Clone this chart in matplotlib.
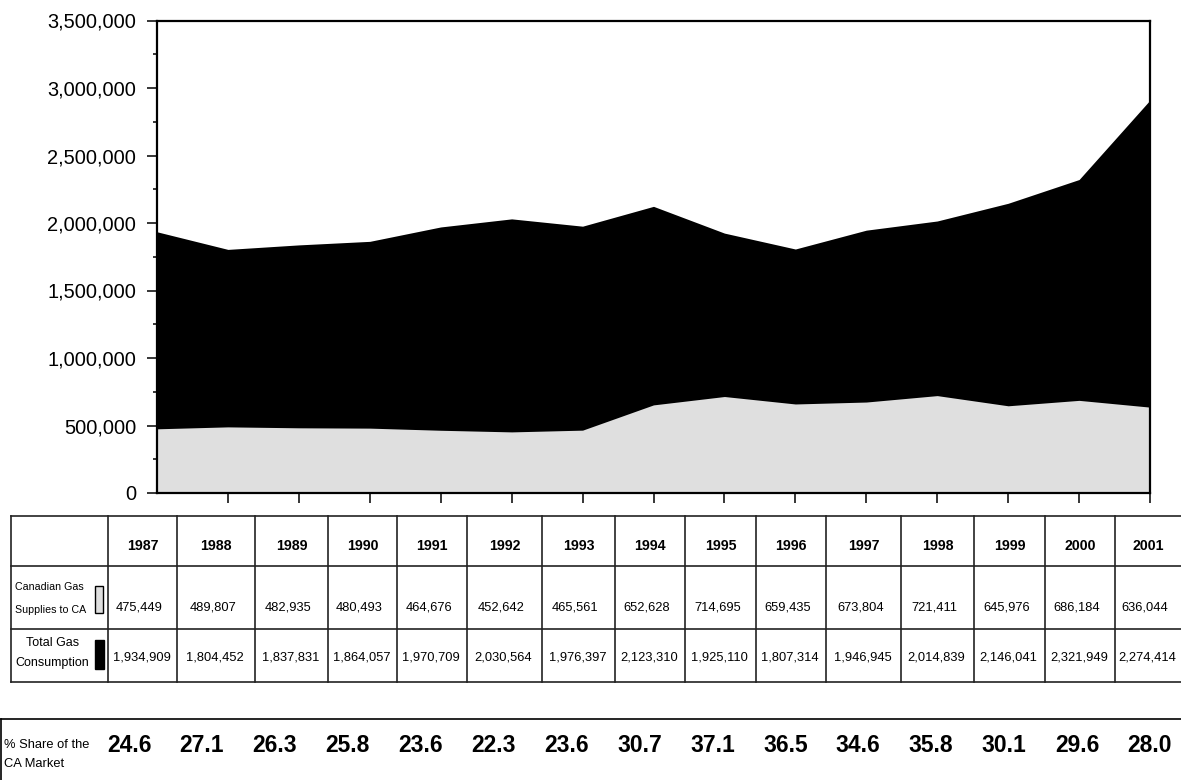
import numpy as np
import matplotlib
matplotlib.use("Agg")
import matplotlib.pyplot as plt
from matplotlib.lines import Line2D
from matplotlib.patches import Rectangle
from matplotlib.ticker import FuncFormatter, MultipleLocator

plt.rcParams['font.family'] = ['Liberation Sans', 'DejaVu Sans']

years = [1987, 1988, 1989, 1990, 1991, 1992, 1993, 1994, 1995,
         1996, 1997, 1998, 1999, 2000, 2001]
canadian = [475449, 489807, 482935, 480493, 464676, 452642, 465561, 652628,
            714695, 659435, 673804, 721411, 645976, 686184, 636044]
total = [1934909, 1804452, 1837831, 1864057, 1970709, 2030564, 1976397,
         2123310, 1925110, 1807314, 1946945, 2014839, 2146041, 2321949,
         2274414]
# series as plotted in the area chart (2001 point plotted higher than the table)
total_plotted = [1934909, 1804452, 1837831, 1864057, 1970709, 2030564,
                 1976397, 2123310, 1925110, 1807314, 1946945, 2014839,
                 2146041, 2321949, 2910458]
share = ['24.6', '27.1', '26.3', '25.8', '23.6', '22.3', '23.6', '30.7',
         '37.1', '36.5', '34.6', '35.8', '30.1', '29.6', '28.0']

W, H = 1181, 780
fig = plt.figure(figsize=(W / 100, H / 100), dpi=100)


def fx(x):
    return x / W


def fy(y):
    return 1 - y / H


# ---- area chart ----
ax = fig.add_axes([fx(157), fy(493), fx(1150 - 157), (493 - 20.5) / H])
xi = np.arange(len(years))
ax.fill_between(xi, 0, total_plotted, color='black', lw=0)
ax.fill_between(xi, 0, canadian, color='#dfdfdf', lw=0)
ax.set_xlim(0, len(years) - 1)
ax.set_ylim(0, 3500000)
ax.yaxis.set_major_locator(MultipleLocator(500000))
ax.yaxis.set_minor_locator(MultipleLocator(250000))
ax.yaxis.set_major_formatter(FuncFormatter(lambda v, p: f'{int(v):,}'))
ax.set_xticks(xi[1:])
ax.set_xticklabels([])
ax.tick_params(axis='y', which='major', length=7, width=1.1, pad=8,
               labelsize=14.4)
ax.tick_params(axis='y', which='minor', length=3, width=1.1)
ax.tick_params(axis='x', length=7.5, width=1.1)
for s in ax.spines.values():
    s.set_linewidth(1.6)

# ---- data table ----
cols = [11, 108, 177, 255, 328, 397, 467, 542, 615, 685, 756, 826, 901,
        974, 1045, 1115, 1181]
rows = [516, 566, 629, 682]
lc = '#222222'
for y in rows:
    fig.add_artist(Line2D([fx(11), fx(1181)], [fy(y), fy(y)], color=lc,
                          lw=1.2))
for x in cols[:-1]:
    fig.add_artist(Line2D([fx(x), fx(x)], [fy(516), fy(682)], color=lc,
                          lw=1.2))

for i, yr in enumerate(years):
    c = (cols[i + 1] + cols[i + 2]) / 2
    fig.text(fx(c), fy(546), str(yr), ha='center', va='center',
             fontsize=10.2, fontweight='bold')
    fig.text(fx(c - 3), fy(607), f'{canadian[i]:,}', ha='center',
             va='center', fontsize=9.3)
    fig.text(fx(c - 1), fy(657), f'{total[i]:,}', ha='center',
             va='center', fontsize=9.3)

fig.text(fx(15), fy(587), 'Canadian Gas', ha='left', va='center',
         fontsize=7.7)
fig.text(fx(15), fy(610), 'Supplies to CA', ha='left', va='center',
         fontsize=7.7)
fig.text(fx(53), fy(643), 'Total Gas', ha='center', va='center',
         fontsize=9)
fig.text(fx(52), fy(663), 'Consumption', ha='center', va='center',
         fontsize=9)
fig.add_artist(Rectangle((fx(95), fy(613)), fx(8), (613 - 586) / H,
                         facecolor='#dfdfdf', edgecolor='black', lw=1))
fig.add_artist(Rectangle((fx(95), fy(669)), fx(9), (669 - 640) / H,
                         facecolor='black', edgecolor='black', lw=1))

# ---- market share box ----
fig.add_artist(Line2D([fx(1), fx(1181)], [fy(719), fy(719)], color='black',
                      lw=1.2))
fig.add_artist(Line2D([fx(1), fx(1)], [fy(719), fy(780)], color='black',
                      lw=1.2))
fig.text(fx(4), fy(745), '% Share of the', ha='left', va='center',
         fontsize=9.3)
fig.text(fx(4), fy(764), 'CA Market', ha='left', va='center', fontsize=9.3)
share_x = np.linspace(129, 1150, len(share))
for x, s in zip(share_x, share):
    fig.text(fx(x), fy(746), s, ha='center', va='center', fontsize=16.5,
             fontweight='bold')

fig.savefig('out.png', dpi=100)
